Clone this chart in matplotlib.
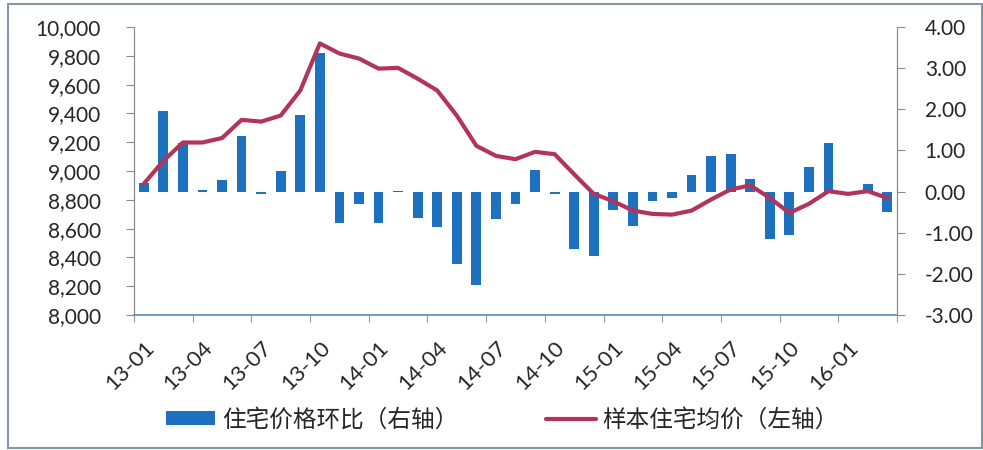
import matplotlib
matplotlib.use("Agg")
import matplotlib.pyplot as plt
from matplotlib.patches import Rectangle
from matplotlib.ticker import FuncFormatter

plt.rcParams['font.family'] = ['Noto Sans CJK SC', 'DejaVu Sans']

# months 13-01 .. 16-03
months = [f"{y:02d}-{m:02d}" for y in (13, 14, 15, 16) for m in range(1, 13)][:39]

# 住宅价格环比 (%), right axis
mom_change = [0.20, 1.96, 1.18, 0.05, 0.29, 1.34, -0.05, 0.50, 1.85, 3.37,
              -0.76, -0.30, -0.76, 0.02, -0.65, -0.87, -1.77, -2.28, -0.67, -0.29,
              0.53, -0.07, -1.39, -1.57, -0.46, -0.84, -0.23, -0.15, 0.41, 0.87,
              0.91, 0.30, -1.16, -1.06, 0.59, 1.17, 0.00, 0.19, -0.49]

# 样本住宅均价, left axis
avg_price = [8911, 9070, 9198, 9198, 9229, 9355, 9343, 9385, 9559, 9886,
             9816, 9781, 9711, 9716, 9641, 9559, 9385, 9175, 9105, 9082,
             9133, 9117, 8977, 8841, 8790, 8725, 8702, 8697, 8725, 8802,
             8872, 8900, 8813, 8709, 8772, 8860, 8841, 8860, 8813]

bar_color = '#1E71BE'
line_color = '#B2345A'
text_color = '#262626'
num_font = ['Lato', 'DejaVu Sans']

fig = plt.figure(figsize=(9.83, 4.5), dpi=100)
ax = fig.add_axes([0.1363, 0.30, 0.7762, 0.64])
ax2 = ax.twinx()

x = list(range(len(months)))
bars = ax2.bar(x, mom_change, width=0.5, color=bar_color, label='住宅价格环比（右轴）', zorder=2)
line, = ax.plot(x, avg_price, color=line_color, lw=3, solid_joinstyle='round',
                solid_capstyle='round', label='样本住宅均价（左轴）', zorder=3)

ax.set_zorder(ax2.get_zorder() + 1)
ax.patch.set_visible(False)

ax.set_xlim(-0.5, len(months) - 0.5)
ax.set_ylim(8000, 10000)
ax.set_yticks(range(8000, 10001, 200))
ax.yaxis.set_major_formatter(FuncFormatter(lambda v, p: f"{int(v):,}"))
ax2.set_ylim(-3, 4)
ax2.set_yticks(range(-3, 5))
ax2.yaxis.set_major_formatter(FuncFormatter(lambda v, p: f"{v:.2f}"))

# tick marks at category boundaries, labels at category centres
ax.set_xticks([i - 0.5 for i in range(0, len(months) + 1, 3)])
ax.set_xticklabels([])
ax.set_xticks(list(range(0, len(months), 3)), minor=True)
ax.set_xticklabels(months[::3], minor=True, rotation=45, ha='right',
                   rotation_mode='anchor', fontsize=16, color=text_color,
                   family=num_font)
ax.tick_params(axis='x', which='minor', length=0, pad=16)
ax.tick_params(axis='x', which='major', length=5, color='#8a9aa6')

ax.tick_params(axis='y', length=6, color='#8a8a8a', labelsize=15, labelcolor=text_color, pad=18)
ax2.tick_params(axis='y', length=6, color='#8a8a8a', labelsize=15, labelcolor=text_color, pad=14)
for t in ax.get_yticklabels() + ax2.get_yticklabels():
    t.set_family(num_font)

for a in (ax, ax2):
    a.spines['top'].set_visible(False)
    a.spines['left'].set_color('#8a8a8a')
    a.spines['right'].set_color('#8a8a8a')
    a.spines['bottom'].set_color('#6c9cc4')
    a.spines['bottom'].set_linewidth(1.2)

fig.legend(handles=[bars, line], loc='center', bbox_to_anchor=(0.511, 0.067), ncol=2,
           frameon=False, fontsize=17, columnspacing=3.7, handlelength=2.1,
           handleheight=0.55, handletextpad=0.3, labelcolor=text_color)

fig.patches.append(Rectangle((8 / 983, 2 / 450), 974 / 983, 444 / 450,
                             transform=fig.transFigure, fill=False,
                             edgecolor='#7f98a3', lw=1.5))

fig.savefig('out.png', dpi=100)
